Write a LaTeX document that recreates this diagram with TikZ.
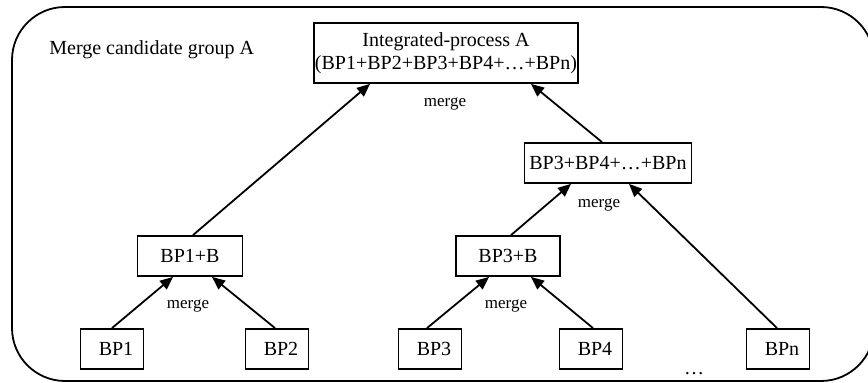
\documentclass[tikz,border=0pt]{standalone}
\usepackage{fontspec}
\setmainfont{Liberation Serif}
\usepackage{tikz}
\usetikzlibrary{arrows.meta}
\tikzset{bpbox/.style={draw, line width=.9pt, minimum height=20pt, inner sep=1pt}}
\tikzset{mergelbl/.style={font=\fontsize{8.5}{10}\selectfont, inner sep=0pt}}
\tikzset{mergearrow/.style={line width=.9pt, -{Triangle[length=6.5pt,width=5.5pt]}}}

\begin{document}
\begin{tikzpicture}[x=.5pt,y=-.5pt]
  \useasboundingbox (0,0) rectangle (868,383);
  \draw[line width=.9pt, rounded corners=26.5pt] (12,7) rectangle (874,381);
  \node[anchor=west, inner sep=0pt] (grp) at (49,50) {Merge candidate group A};

  \node[bpbox, minimum width=130pt, minimum height=30pt, inner sep=.5pt, align=center,
        font=\fontsize{10}{11.5}\selectfont] (intA) at (446,53)
    {Integrated-process A\\(BP1+BP2+BP3+BP4+…+BPn)};
  \node[bpbox, minimum width=83.5pt] (sum34n) at (608,163) {BP3+BP4+…+BPn};
  \node[bpbox, minimum width=52.5pt] (bp1b) at (190,256) {BP1+B};
  \node[bpbox, minimum width=52pt] (bp3b) at (508,256) {BP3+B};
  \foreach \x/\lab/\txt in {
    112/bp1/BP1,
    277/bp2/BP2,
    430/bp3/BP3,
    591/bp4/BP4,
    778/bpn/BPn%
  } {
    \node[bpbox, minimum width=31.5pt] (\lab) at (\x,349) {\hspace{4pt}\txt};
  }

  \foreach \u/\us/\v/\vs in {
    bp1/0pt/bp1b/-8.5pt,
    bp2/-1pt/bp1b/11pt,
    bp1b/1.5pt/intA/-38pt,
    bp3/-1.5pt/bp3b/-9.5pt,
    bp4/1pt/bp3b/11.5pt,
    bp3b/1.5pt/sum34n/-18.5pt,
    bpn/-.5pt/sum34n/10.5pt,
    sum34n/-3pt/intA/42.5pt%
  }{
    \draw[mergearrow] ([xshift=\us]\u.north) -- ([xshift=\vs]\v.south);
  }

  \node[mergelbl] (m1) at (445,104) {merge};
  \node[mergelbl] (m2) at (599,205) {merge};
  \node[mergelbl] (m3) at (188,306) {merge};
  \node[mergelbl] (m4) at (506,306) {merge};
  \node[anchor=base, inner sep=0pt] (dots) at (694,375) {…};
\end{tikzpicture}
\end{document}
